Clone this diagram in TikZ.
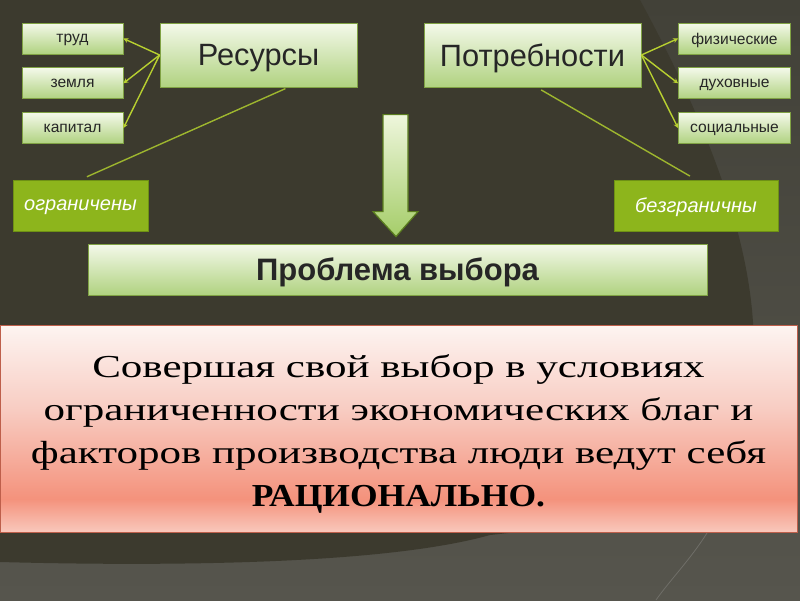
\documentclass[tikz,border=0pt]{standalone}
\usepackage{fontspec}
\setmainfont{Liberation Serif}
\setsansfont{Liberation Sans}
\newfontfamily\wideserif[FakeStretch=1.345]{Liberation Serif}
\newfontfamily\boldserif[FakeStretch=1.11]{Liberation Serif}
\usepackage{tikz}
\usetikzlibrary{arrows.meta, positioning, calc}
\definecolor{bgdark}{RGB}{60, 58, 46}
\definecolor{bgtop}{RGB}{66, 65, 56}
\definecolor{bggray}{RGB}{86, 85, 77}
\definecolor{boxtop}{RGB}{244, 249, 234}
\definecolor{boxbot}{RGB}{176, 210, 128}
\definecolor{boxline}{RGB}{128, 162, 68}
\definecolor{tagfill}{RGB}{141, 181, 28}
\definecolor{tagline}{RGB}{110, 145, 20}
\definecolor{linkgreen}{RGB}{184, 208, 48}
\definecolor{guidegreen}{RGB}{158, 182, 46}
\definecolor{pinktop}{RGB}{253, 244, 241}
\definecolor{pinkmid}{RGB}{248, 205, 195}
\definecolor{pinkpeak}{RGB}{244, 146, 124}
\definecolor{pinkbot}{RGB}{249, 200, 188}
\definecolor{pinkline}{RGB}{190, 95, 75}
\definecolor{arrowtop}{RGB}{238, 246, 220}
\definecolor{arrowbot}{RGB}{165, 205, 105}
\definecolor{arrowline}{RGB}{90, 125, 30}
\pgfdeclareverticalshading{pinkfade}{100bp}{color(0bp)=(pinkbot); color(25bp)=(pinkbot); color(33bp)=(pinkpeak); color(55bp)=(pinkmid); color(75bp)=(pinktop); color(100bp)=(pinktop)}

\begin{document}
\begin{tikzpicture}[x=1pt, y=-1pt,
			smallbox/.style={rectangle, draw=boxline, line width=0.8pt, top color=boxtop, bottom color=boxbot, minimum width=101pt, minimum height=31pt, inner sep=0pt, text depth=0pt, font=\sffamily\fontsize{15.6}{18}\selectfont, text=black!85},
			mainbox/.style={smallbox, minimum height=64pt, font=\sffamily\fontsize{30.8}{36}\selectfont},
			tagbox/.style={rectangle, draw=tagline, line width=0.8pt, fill=tagfill, minimum height=51pt, inner sep=0pt, text depth=0pt, font=\sffamily\itshape\fontsize{20}{24}\selectfont, text=white},
			link/.style={draw=linkgreen, line width=1.4pt, -{Stealth[length=5pt, width=5pt]}},
			guide/.style={draw=guidegreen, line width=1.4pt},
			bigarrow/.style={draw=arrowline, line width=1.2pt, top color=arrowtop, bottom color=arrowbot}
		]
		\useasboundingbox (0,0) rectangle (800,600);
		% background
		\shade[top color=bgtop, bottom color=bggray] (0,0) rectangle (800,600);
		\fill[bgdark] (0,0) -- (640,0) .. controls (705,120) and (765,260) .. (752,380) .. controls (742,470) and (640,520) .. (490,535) .. controls (380,566) and (150,566) .. (0,562) -- cycle;
		\draw[bggray!85!white, line width=0.8pt] (707,533) .. controls (690,560) and (670,580) .. (656,600);
		
		\node[mainbox, minimum width=197pt] (res) at (258.5,55) {Ресурсы};
		\node[mainbox, minimum width=217pt] (need) at (532.5,55) {Потребности};
		\node[smallbox] (labour) at (72.5,38.5) {труд};
		\node[smallbox, below=13pt of labour] (land) {земля};
		\node[smallbox, below=13pt of land] (capital) {капитал};
		\node[smallbox, minimum width=112pt] (phys) at (734.5,38.5) {физические};
		\node[smallbox, minimum width=112pt, below=13pt of phys] (spirit) {духовные};
		\node[smallbox, minimum width=112pt, below=13pt of spirit] (social) {социальные};
		\node[tagbox, minimum width=135pt] (limited) at (80.5,205.5) {ограничены};
		\node[tagbox, minimum width=164pt] (unlimited) at (696,205.5) {безграничны};
		\node[mainbox, minimum width=619pt, minimum height=51pt, font=\sffamily\bfseries\fontsize{31}{36}\selectfont] (choice) at (397.5,269.5) {Проблема выбора};
		\node[draw=pinkline, line width=1pt, shading=pinkfade, minimum width=797pt, minimum height=207pt, inner sep=0pt, font=\wideserif\fontsize{32}{43}\selectfont] (rational) at (398.5,428.5) {\raisebox{-5pt}[\height][\depth]{\begin{tabular}{@{}c@{}}Совершая свой выбор в условиях\\ограниченности экономических благ и\\факторов производства люди ведут себя\\{\boldserif\bfseries РАЦИОНАЛЬНО.}\end{tabular}}};
		
		\draw[link] (res.west) -- (labour.east);
		\draw[link] (res.west) -- (land.east);
		\draw[link] (res.west) -- (capital.east);
		\draw[link] (need.east) -- (phys.west);
		\draw[link] (need.east) -- (spirit.west);
		\draw[link] (need.east) -- (social.west);
		\draw[guide, shorten <=7pt, shorten >=3pt] (limited.north) -- ($(res.south west)!0.65!(res.south east)$);
		\draw[guide, shorten <=5pt, shorten >=7pt] ($(need.south west)!0.52!(need.south east)$) -- (unlimited.north);
		
		\coordinate (tip) at ($(choice.north)+(-1.5,-7)$);
		\draw[bigarrow] (tip) -- ++(-23,-25) -- ++(10,0) -- ++(0,-97) -- ++(25,0) -- ++(0,97) -- ++(10,0) -- cycle;
		\end{tikzpicture}
\end{document}
